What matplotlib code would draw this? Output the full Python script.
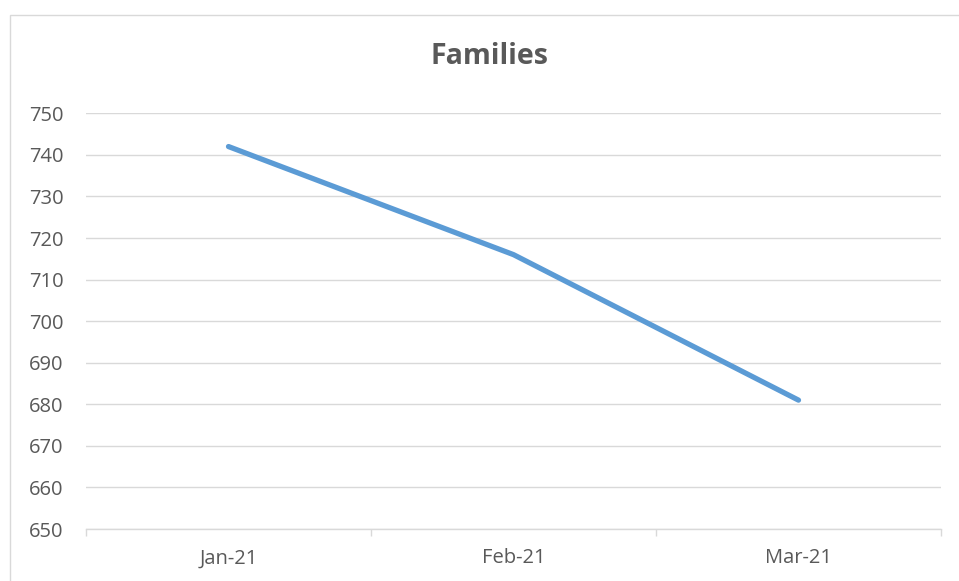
import matplotlib.pyplot as plt
from matplotlib.patches import Rectangle

months = ['Jan-21', 'Feb-21', 'Mar-21']
families = [742, 716, 681]

grey = '#595959'
grid = '#D9D9D9'

plt.rcParams['font.family'] = ['Open Sans', 'DejaVu Sans']

fig = plt.figure(figsize=(9.59, 5.81), dpi=100)
ax = fig.add_axes([86 / 959, 1 - 529 / 581, 855 / 959, (529 - 113.3) / 581])

# outer chart border (cropped on right and bottom)
fig.patches.append(Rectangle((10 / 959, -0.05), 1.0, 1 - 15 / 581 + 0.05,
                             transform=fig.transFigure, fill=False,
                             edgecolor=grid, linewidth=1.0))

x = list(range(len(months)))
ax.plot(x, families, color='#5B9BD5', linewidth=3.8, solid_capstyle='round')

ax.set_xlim(-0.5, len(months) - 0.5)
ax.set_ylim(650, 750)
ax.set_yticks(range(650, 751, 10))
ax.yaxis.grid(True, color=grid, linewidth=1.0)
ax.set_axisbelow(True)

# category boundaries as major ticks, labels centered on minor ticks
ax.set_xticks([i - 0.5 for i in range(len(months) + 1)])
ax.set_xticklabels([])
ax.set_xticks(x, minor=True)
ax.set_xticklabels(months, minor=True)
ax.tick_params(axis='x', which='major', length=5, color=grid, width=1.0)
ax.tick_params(axis='x', which='minor', length=0, pad=14, labelsize=14.5, labelcolor=grey)
ax.tick_params(axis='y', length=0, pad=16, labelsize=14.5, labelcolor=grey)

for s in ['top', 'right', 'left']:
    ax.spines[s].set_visible(False)
ax.spines['bottom'].set_color(grid)
ax.spines['bottom'].set_linewidth(1.0)

fig.text(489 / 959, 1 - 57 / 581, 'Families', ha='center', va='center',
         fontsize=20.5, fontweight='bold', color=grey)

fig.savefig('out.png', dpi=100)
